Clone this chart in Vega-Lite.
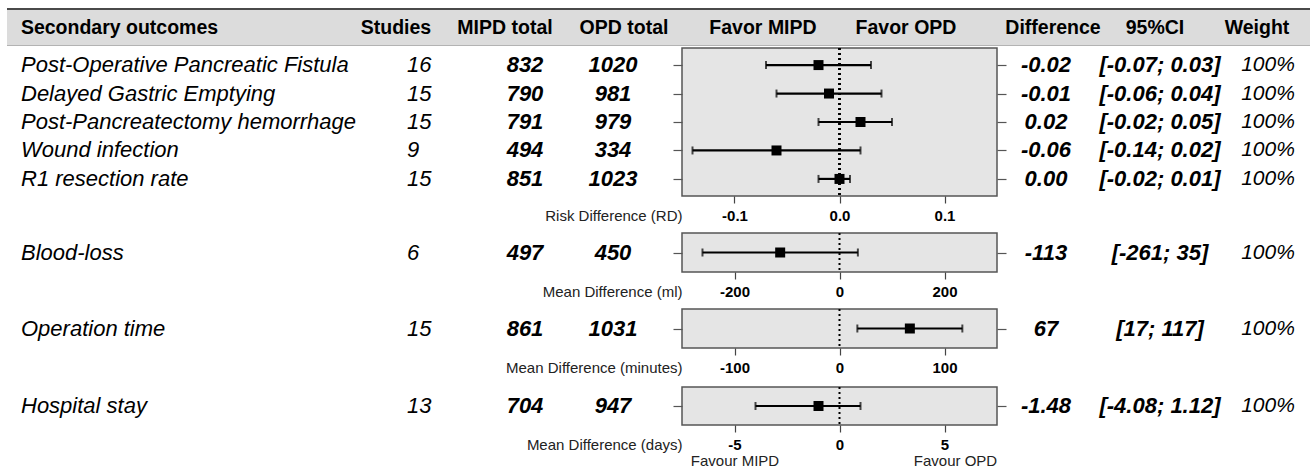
{
"$schema": "https://vega.github.io/schema/vega-lite/v6.json",
"padding": {"left": 7, "top": 8, "right": 0, "bottom": 0},
"background": "#ffffff",
"config": {"view": {"stroke": null}, "text": {"font": "Liberation Sans"}},
"datasets": {
"o": [
{"outcome":"Post-Operative Pancreatic Fistula","panel":"RD","studies":16,"mipd":832,"opd":1020,"est":-0.02,"lo":-0.07,"hi":0.03,"diff":"-0.02","ci":"[-0.07; 0.03]","weight":"100%"},
{"outcome":"Delayed Gastric Emptying","panel":"RD","studies":15,"mipd":790,"opd":981,"est":-0.01,"lo":-0.06,"hi":0.04,"diff":"-0.01","ci":"[-0.06; 0.04]","weight":"100%"},
{"outcome":"Post-Pancreatectomy hemorrhage","panel":"RD","studies":15,"mipd":791,"opd":979,"est":0.02,"lo":-0.02,"hi":0.05,"diff":"0.02","ci":"[-0.02; 0.05]","weight":"100%"},
{"outcome":"Wound infection","panel":"RD","studies":9,"mipd":494,"opd":334,"est":-0.06,"lo":-0.14,"hi":0.02,"diff":"-0.06","ci":"[-0.14; 0.02]","weight":"100%"},
{"outcome":"R1 resection rate","panel":"RD","studies":15,"mipd":851,"opd":1023,"est":0.0,"lo":-0.02,"hi":0.01,"diff":"0.00","ci":"[-0.02; 0.01]","weight":"100%"},
{"outcome":"Blood-loss","panel":"BL","studies":6,"mipd":497,"opd":450,"est":-113,"lo":-261,"hi":35,"diff":"-113","ci":"[-261; 35]","weight":"100%"},
{"outcome":"Operation time","panel":"OT","studies":15,"mipd":861,"opd":1031,"est":67,"lo":17,"hi":117,"diff":"67","ci":"[17; 117]","weight":"100%"},
{"outcome":"Hospital stay","panel":"HS","studies":13,"mipd":704,"opd":947,"est":-1.0,"lo":-4.0,"hi":1.0,"diff":"-1.48","ci":"[-4.08; 1.12]","weight":"100%"}
],
"hdr": [
{"col":"label","h":"Secondary outcomes"},
{"col":"studies","h":"Studies"},
{"col":"mipd","h":"MIPD total"},
{"col":"opd","h":"OPD total"},
{"col":"favmipd","h":"Favor MIPD"},
{"col":"favopd","h":"Favor OPD"},
{"col":"diff","h":"Difference"},
{"col":"ci","h":"95%CI"},
{"col":"weight","h":"Weight"}
]
},
"spacing": 0,
"vconcat": [
{"data": {"name": "hdr"}, "transform": [{"filter": "false"}], "width": 1303, "height": 2, "view": {"fill": "#4a4a4a", "stroke": null}, "mark": "text"},
{"data": {"name": "hdr"}, "spacing": 0, "bounds": "flush", "hconcat": [
 {"width": 225, "height": 35, "view": {"fill": "#dcdcdc", "stroke": null}, "transform": [{"filter": "datum.col == 'label'"}], "mark": {"type": "text", "align": "center", "baseline": "middle", "font": "Liberation Sans", "fontSize": 19.5, "fontWeight": "bold", "color": "#000"}, "encoding": {"text": {"field": "h", "type": "nominal"}}},
 {"width": 108, "height": 35, "view": {"fill": "#dcdcdc", "stroke": null}, "transform": [{"filter": "false"}], "mark": "text"},
 {"width": 112, "height": 35, "view": {"fill": "#dcdcdc", "stroke": null}, "transform": [{"filter": "datum.col == 'studies'"}], "mark": {"type": "text", "align": "center", "baseline": "middle", "font": "Liberation Sans", "fontSize": 19.5, "fontWeight": "bold", "color": "#000"}, "encoding": {"text": {"field": "h", "type": "nominal"}}},
 {"width": 106, "height": 35, "view": {"fill": "#dcdcdc", "stroke": null}, "transform": [{"filter": "datum.col == 'mipd'"}], "mark": {"type": "text", "align": "center", "baseline": "middle", "font": "Liberation Sans", "fontSize": 19.5, "fontWeight": "bold", "color": "#000"}, "encoding": {"text": {"field": "h", "type": "nominal"}}},
 {"width": 132, "height": 35, "view": {"fill": "#dcdcdc", "stroke": null}, "transform": [{"filter": "datum.col == 'opd'"}], "mark": {"type": "text", "align": "center", "baseline": "middle", "font": "Liberation Sans", "fontSize": 19.5, "fontWeight": "bold", "color": "#000"}, "encoding": {"text": {"field": "h", "type": "nominal"}}},
 {"width": 146, "height": 35, "view": {"fill": "#dcdcdc", "stroke": null}, "transform": [{"filter": "datum.col == 'favmipd'"}], "mark": {"type": "text", "align": "center", "baseline": "middle", "font": "Liberation Sans", "fontSize": 19.5, "fontWeight": "bold", "color": "#000"}, "encoding": {"text": {"field": "h", "type": "nominal"}}},
 {"width": 140, "height": 35, "view": {"fill": "#dcdcdc", "stroke": null}, "transform": [{"filter": "datum.col == 'favopd'"}], "mark": {"type": "text", "align": "center", "baseline": "middle", "font": "Liberation Sans", "fontSize": 19.5, "fontWeight": "bold", "color": "#000"}, "encoding": {"text": {"field": "h", "type": "nominal"}}},
 {"width": 24, "height": 35, "view": {"fill": "#dcdcdc", "stroke": null}, "transform": [{"filter": "false"}], "mark": "text"},
 {"width": 106, "height": 35, "view": {"fill": "#dcdcdc", "stroke": null}, "transform": [{"filter": "datum.col == 'diff'"}], "mark": {"type": "text", "align": "center", "baseline": "middle", "font": "Liberation Sans", "fontSize": 19.5, "fontWeight": "bold", "color": "#000"}, "encoding": {"text": {"field": "h", "type": "nominal"}}},
 {"width": 98, "height": 35, "view": {"fill": "#dcdcdc", "stroke": null}, "transform": [{"filter": "datum.col == 'ci'"}], "mark": {"type": "text", "align": "center", "baseline": "middle", "font": "Liberation Sans", "fontSize": 19.5, "fontWeight": "bold", "color": "#000"}, "encoding": {"text": {"field": "h", "type": "nominal"}}},
 {"width": 106, "height": 35, "view": {"fill": "#dcdcdc", "stroke": null}, "transform": [{"filter": "datum.col == 'weight'"}], "mark": {"type": "text", "align": "center", "baseline": "middle", "font": "Liberation Sans", "fontSize": 19.5, "fontWeight": "bold", "color": "#000"}, "encoding": {"text": {"field": "h", "type": "nominal"}}}
]},
{"data": {"name": "hdr"}, "transform": [{"filter": "false"}], "width": 1303, "height": 1, "view": {"fill": "#b3b3b3", "stroke": null}, "mark": "text"},

{"data": {"name": "o"}, "transform": [{"filter": "datum.panel == 'RD'"}], "spacing": 0, "bounds": "flush", "hconcat": [
 {"width": 28, "height": 148, "mark": {"type": "text", "align": "left", "baseline": "middle", "font": "Liberation Sans", "fontSize": 22, "fontStyle": "italic", "color": "#000"}, "encoding": {"y": {"field": "outcome", "type": "nominal", "sort": null, "scale": {"type": "point", "padding": 0.6}, "axis": null}, "text": {"field": "outcome", "type": "nominal"}}},
 {"width": 322, "height": 183, "transform": [{"filter": "false"}], "mark": "text"},
 {"width": 100, "height": 148, "mark": {"type": "text", "align": "left", "baseline": "middle", "font": "Liberation Sans", "fontSize": 22, "fontStyle": "italic", "color": "#000"}, "encoding": {"y": {"field": "outcome", "type": "nominal", "sort": null, "scale": {"type": "point", "padding": 0.6}, "axis": null}, "text": {"field": "studies", "type": "nominal"}}},
 {"width": 136, "height": 148, "mark": {"type": "text", "align": "center", "baseline": "middle", "font": "Liberation Sans", "fontSize": 22, "fontStyle": "italic", "fontWeight": "bold", "color": "#000"}, "encoding": {"y": {"field": "outcome", "type": "nominal", "sort": null, "scale": {"type": "point", "padding": 0.6}, "axis": null}, "text": {"field": "mipd", "type": "nominal"}}},
 {"width": 40, "height": 148, "mark": {"type": "text", "align": "center", "baseline": "middle", "font": "Liberation Sans", "fontSize": 22, "fontStyle": "italic", "fontWeight": "bold", "color": "#000"}, "encoding": {"y": {"field": "outcome", "type": "nominal", "sort": null, "scale": {"type": "point", "padding": 0.6}, "axis": null}, "text": {"field": "opd", "type": "nominal"}}},
 {"width": 49, "height": 148, "transform": [{"filter": "false"}], "mark": "text"},
 {"width": 315, "height": 148, "view": {"fill": "#e5e5e5", "stroke": "#555555", "strokeWidth": 1.5},
  "resolve": {"axis": {"x": "independent", "y": "independent"}},
  "layer": [
   {"mark": {"type": "rule", "strokeDash": [2, 3], "strokeWidth": 2, "color": "#000"}, "encoding": {"x": {"datum": 0, "type": "quantitative", "axis": null}}},
   {"mark": {"type": "rule", "strokeWidth": 2.2, "color": "#000"}, "encoding": {"x": {"field": "lo", "type": "quantitative", "axis": null}, "x2": {"field": "hi"}, "y": {"field": "outcome", "type": "nominal", "sort": null, "scale": {"type": "point", "padding": 0.6}, "axis": null}}},
   {"mark": {"type": "tick", "size": 8, "thickness": 2, "color": "#000"}, "encoding": {"x": {"field": "lo", "type": "quantitative",
       "axis": {"orient": "bottom", "values": [-0.15], "labelExpr": "'Risk Difference (RD)'", "labelAlign": "right", "labelDx": -4, "ticks": true, "tickSize": 7, "tickOpacity": 0, "domain": false, "grid": false, "labelPadding": 5, "labelFont": "Liberation Sans", "labelFontSize": 15, "labelFontWeight": "normal", "labelColor": "#222", "labelFlush": false, "labelOverlap": false, "labelLimit": 400, "title": null}},
     "y": {"field": "outcome", "type": "nominal", "sort": null, "axis": null}}},
   {"mark": {"type": "tick", "size": 8, "thickness": 2, "color": "#000"}, "encoding": {"x": {"field": "hi", "type": "quantitative", "axis": null}, "y": {"field": "outcome", "type": "nominal", "sort": null, "axis": {"orient": "right", "labels": false, "domain": false, "ticks": true, "tickSize": 9, "tickColor": "#555", "tickWidth": 1.2, "grid": false, "title": null}}}},
   {"mark": {"type": "square", "size": 100, "color": "#000", "opacity": 1}, "encoding": {
     "x": {"field": "est", "type": "quantitative", "scale": {"domain": [-0.15, 0.15], "nice": false, "zero": false},
       "axis": {"orient": "bottom", "values": [-0.1, 0, 0.1], "format": ".1f", "labelExpr": "replace(datum.label, '−', '-')", "domain": false, "ticks": true, "tickSize": 7, "tickColor": "#444", "tickWidth": 1.2, "grid": false, "labelFont": "Liberation Sans", "labelFontSize": 15, "labelFontWeight": "bold", "labelColor": "#000", "labelPadding": 5, "labelFlush": false, "labelOverlap": false, "title": null}},
     "y": {"field": "outcome", "type": "nominal", "sort": null, "axis": {"orient": "left", "labels": false, "domain": false, "ticks": true, "tickSize": 9, "tickColor": "#555", "tickWidth": 1.2, "grid": false, "title": null}}}}
  ]},
 {"width": 98, "height": 148, "mark": {"type": "text", "align": "center", "baseline": "middle", "font": "Liberation Sans", "fontSize": 22, "fontStyle": "italic", "fontWeight": "bold", "color": "#000"}, "encoding": {"y": {"field": "outcome", "type": "nominal", "sort": null, "scale": {"type": "point", "padding": 0.6}, "axis": null}, "text": {"field": "diff", "type": "nominal"}}},
 {"width": 130, "height": 148, "mark": {"type": "text", "align": "center", "baseline": "middle", "font": "Liberation Sans", "fontSize": 22, "fontStyle": "italic", "fontWeight": "bold", "color": "#000"}, "encoding": {"y": {"field": "outcome", "type": "nominal", "sort": null, "scale": {"type": "point", "padding": 0.6}, "axis": null}, "text": {"field": "ci", "type": "nominal"}}},
 {"width": 86, "height": 148, "mark": {"type": "text", "align": "center", "baseline": "middle", "font": "Liberation Sans", "fontSize": 21, "fontStyle": "italic", "color": "#000"}, "encoding": {"y": {"field": "outcome", "type": "nominal", "sort": null, "scale": {"type": "point", "padding": 0.6}, "axis": null}, "text": {"field": "weight", "type": "nominal"}}}
]},

{"data": {"name": "o"}, "transform": [{"filter": "datum.panel == 'BL'"}], "spacing": 0, "bounds": "flush", "hconcat": [
 {"width": 28, "height": 39, "mark": {"type": "text", "align": "left", "baseline": "middle", "font": "Liberation Sans", "fontSize": 22, "fontStyle": "italic", "color": "#000"}, "encoding": {"y": {"field": "outcome", "type": "nominal", "sort": null, "scale": {"type": "point", "padding": 0.6}, "axis": null}, "text": {"field": "outcome", "type": "nominal"}}},
 {"width": 322, "height": 74, "transform": [{"filter": "false"}], "mark": "text"},
 {"width": 100, "height": 39, "mark": {"type": "text", "align": "left", "baseline": "middle", "font": "Liberation Sans", "fontSize": 22, "fontStyle": "italic", "color": "#000"}, "encoding": {"y": {"field": "outcome", "type": "nominal", "sort": null, "scale": {"type": "point", "padding": 0.6}, "axis": null}, "text": {"field": "studies", "type": "nominal"}}},
 {"width": 136, "height": 39, "mark": {"type": "text", "align": "center", "baseline": "middle", "font": "Liberation Sans", "fontSize": 22, "fontStyle": "italic", "fontWeight": "bold", "color": "#000"}, "encoding": {"y": {"field": "outcome", "type": "nominal", "sort": null, "scale": {"type": "point", "padding": 0.6}, "axis": null}, "text": {"field": "mipd", "type": "nominal"}}},
 {"width": 40, "height": 39, "mark": {"type": "text", "align": "center", "baseline": "middle", "font": "Liberation Sans", "fontSize": 22, "fontStyle": "italic", "fontWeight": "bold", "color": "#000"}, "encoding": {"y": {"field": "outcome", "type": "nominal", "sort": null, "scale": {"type": "point", "padding": 0.6}, "axis": null}, "text": {"field": "opd", "type": "nominal"}}},
 {"width": 49, "height": 39, "transform": [{"filter": "false"}], "mark": "text"},
 {"width": 315, "height": 39, "view": {"fill": "#e5e5e5", "stroke": "#555555", "strokeWidth": 1.5},
  "resolve": {"axis": {"x": "independent", "y": "independent"}},
  "layer": [
   {"mark": {"type": "rule", "strokeDash": [2, 3], "strokeWidth": 2, "color": "#000"}, "encoding": {"x": {"datum": 0, "type": "quantitative", "axis": null}}},
   {"mark": {"type": "rule", "strokeWidth": 2.2, "color": "#000"}, "encoding": {"x": {"field": "lo", "type": "quantitative", "axis": null}, "x2": {"field": "hi"}, "y": {"field": "outcome", "type": "nominal", "sort": null, "scale": {"type": "point", "padding": 0.6}, "axis": null}}},
   {"mark": {"type": "tick", "size": 8, "thickness": 2, "color": "#000"}, "encoding": {"x": {"field": "lo", "type": "quantitative",
       "axis": {"orient": "bottom", "values": [-300], "labelExpr": "'Mean Difference (ml)'", "labelAlign": "right", "labelDx": -4, "ticks": true, "tickSize": 7, "tickOpacity": 0, "domain": false, "grid": false, "labelPadding": 5, "labelFont": "Liberation Sans", "labelFontSize": 15, "labelFontWeight": "normal", "labelColor": "#222", "labelFlush": false, "labelOverlap": false, "labelLimit": 400, "title": null}},
     "y": {"field": "outcome", "type": "nominal", "sort": null, "axis": null}}},
   {"mark": {"type": "tick", "size": 8, "thickness": 2, "color": "#000"}, "encoding": {"x": {"field": "hi", "type": "quantitative", "axis": null}, "y": {"field": "outcome", "type": "nominal", "sort": null, "axis": {"orient": "right", "labels": false, "domain": false, "ticks": true, "tickSize": 9, "tickColor": "#555", "tickWidth": 1.2, "grid": false, "title": null}}}},
   {"mark": {"type": "square", "size": 100, "color": "#000", "opacity": 1}, "encoding": {
     "x": {"field": "est", "type": "quantitative", "scale": {"domain": [-300, 300], "nice": false, "zero": false},
       "axis": {"orient": "bottom", "values": [-200, 0, 200], "labelExpr": "replace(datum.label, '−', '-')", "domain": false, "ticks": true, "tickSize": 7, "tickColor": "#444", "tickWidth": 1.2, "grid": false, "labelFont": "Liberation Sans", "labelFontSize": 15, "labelFontWeight": "bold", "labelColor": "#000", "labelPadding": 5, "labelFlush": false, "labelOverlap": false, "title": null}},
     "y": {"field": "outcome", "type": "nominal", "sort": null, "axis": {"orient": "left", "labels": false, "domain": false, "ticks": true, "tickSize": 9, "tickColor": "#555", "tickWidth": 1.2, "grid": false, "title": null}}}}
  ]},
 {"width": 98, "height": 39, "mark": {"type": "text", "align": "center", "baseline": "middle", "font": "Liberation Sans", "fontSize": 22, "fontStyle": "italic", "fontWeight": "bold", "color": "#000"}, "encoding": {"y": {"field": "outcome", "type": "nominal", "sort": null, "scale": {"type": "point", "padding": 0.6}, "axis": null}, "text": {"field": "diff", "type": "nominal"}}},
 {"width": 130, "height": 39, "mark": {"type": "text", "align": "center", "baseline": "middle", "font": "Liberation Sans", "fontSize": 22, "fontStyle": "italic", "fontWeight": "bold", "color": "#000"}, "encoding": {"y": {"field": "outcome", "type": "nominal", "sort": null, "scale": {"type": "point", "padding": 0.6}, "axis": null}, "text": {"field": "ci", "type": "nominal"}}},
 {"width": 86, "height": 39, "mark": {"type": "text", "align": "center", "baseline": "middle", "font": "Liberation Sans", "fontSize": 21, "fontStyle": "italic", "color": "#000"}, "encoding": {"y": {"field": "outcome", "type": "nominal", "sort": null, "scale": {"type": "point", "padding": 0.6}, "axis": null}, "text": {"field": "weight", "type": "nominal"}}}
]},

{"data": {"name": "o"}, "transform": [{"filter": "datum.panel == 'OT'"}], "spacing": 0, "bounds": "flush", "hconcat": [
 {"width": 28, "height": 39, "mark": {"type": "text", "align": "left", "baseline": "middle", "font": "Liberation Sans", "fontSize": 22, "fontStyle": "italic", "color": "#000"}, "encoding": {"y": {"field": "outcome", "type": "nominal", "sort": null, "scale": {"type": "point", "padding": 0.6}, "axis": null}, "text": {"field": "outcome", "type": "nominal"}}},
 {"width": 322, "height": 76, "transform": [{"filter": "false"}], "mark": "text"},
 {"width": 100, "height": 39, "mark": {"type": "text", "align": "left", "baseline": "middle", "font": "Liberation Sans", "fontSize": 22, "fontStyle": "italic", "color": "#000"}, "encoding": {"y": {"field": "outcome", "type": "nominal", "sort": null, "scale": {"type": "point", "padding": 0.6}, "axis": null}, "text": {"field": "studies", "type": "nominal"}}},
 {"width": 136, "height": 39, "mark": {"type": "text", "align": "center", "baseline": "middle", "font": "Liberation Sans", "fontSize": 22, "fontStyle": "italic", "fontWeight": "bold", "color": "#000"}, "encoding": {"y": {"field": "outcome", "type": "nominal", "sort": null, "scale": {"type": "point", "padding": 0.6}, "axis": null}, "text": {"field": "mipd", "type": "nominal"}}},
 {"width": 40, "height": 39, "mark": {"type": "text", "align": "center", "baseline": "middle", "font": "Liberation Sans", "fontSize": 22, "fontStyle": "italic", "fontWeight": "bold", "color": "#000"}, "encoding": {"y": {"field": "outcome", "type": "nominal", "sort": null, "scale": {"type": "point", "padding": 0.6}, "axis": null}, "text": {"field": "opd", "type": "nominal"}}},
 {"width": 49, "height": 39, "transform": [{"filter": "false"}], "mark": "text"},
 {"width": 315, "height": 39, "view": {"fill": "#e5e5e5", "stroke": "#555555", "strokeWidth": 1.5},
  "resolve": {"axis": {"x": "independent", "y": "independent"}},
  "layer": [
   {"mark": {"type": "rule", "strokeDash": [2, 3], "strokeWidth": 2, "color": "#000"}, "encoding": {"x": {"datum": 0, "type": "quantitative", "axis": null}}},
   {"mark": {"type": "rule", "strokeWidth": 2.2, "color": "#000"}, "encoding": {"x": {"field": "lo", "type": "quantitative", "axis": null}, "x2": {"field": "hi"}, "y": {"field": "outcome", "type": "nominal", "sort": null, "scale": {"type": "point", "padding": 0.6}, "axis": null}}},
   {"mark": {"type": "tick", "size": 8, "thickness": 2, "color": "#000"}, "encoding": {"x": {"field": "lo", "type": "quantitative",
       "axis": {"orient": "bottom", "values": [-150], "labelExpr": "'Mean Difference (minutes)'", "labelAlign": "right", "labelDx": -4, "ticks": true, "tickSize": 7, "tickOpacity": 0, "domain": false, "grid": false, "labelPadding": 5, "labelFont": "Liberation Sans", "labelFontSize": 15, "labelFontWeight": "normal", "labelColor": "#222", "labelFlush": false, "labelOverlap": false, "labelLimit": 400, "title": null}},
     "y": {"field": "outcome", "type": "nominal", "sort": null, "axis": null}}},
   {"mark": {"type": "tick", "size": 8, "thickness": 2, "color": "#000"}, "encoding": {"x": {"field": "hi", "type": "quantitative", "axis": null}, "y": {"field": "outcome", "type": "nominal", "sort": null, "axis": {"orient": "right", "labels": false, "domain": false, "ticks": true, "tickSize": 9, "tickColor": "#555", "tickWidth": 1.2, "grid": false, "title": null}}}},
   {"mark": {"type": "square", "size": 100, "color": "#000", "opacity": 1}, "encoding": {
     "x": {"field": "est", "type": "quantitative", "scale": {"domain": [-150, 150], "nice": false, "zero": false},
       "axis": {"orient": "bottom", "values": [-100, 0, 100], "labelExpr": "replace(datum.label, '−', '-')", "domain": false, "ticks": true, "tickSize": 7, "tickColor": "#444", "tickWidth": 1.2, "grid": false, "labelFont": "Liberation Sans", "labelFontSize": 15, "labelFontWeight": "bold", "labelColor": "#000", "labelPadding": 5, "labelFlush": false, "labelOverlap": false, "title": null}},
     "y": {"field": "outcome", "type": "nominal", "sort": null, "axis": {"orient": "left", "labels": false, "domain": false, "ticks": true, "tickSize": 9, "tickColor": "#555", "tickWidth": 1.2, "grid": false, "title": null}}}}
  ]},
 {"width": 98, "height": 39, "mark": {"type": "text", "align": "center", "baseline": "middle", "font": "Liberation Sans", "fontSize": 22, "fontStyle": "italic", "fontWeight": "bold", "color": "#000"}, "encoding": {"y": {"field": "outcome", "type": "nominal", "sort": null, "scale": {"type": "point", "padding": 0.6}, "axis": null}, "text": {"field": "diff", "type": "nominal"}}},
 {"width": 130, "height": 39, "mark": {"type": "text", "align": "center", "baseline": "middle", "font": "Liberation Sans", "fontSize": 22, "fontStyle": "italic", "fontWeight": "bold", "color": "#000"}, "encoding": {"y": {"field": "outcome", "type": "nominal", "sort": null, "scale": {"type": "point", "padding": 0.6}, "axis": null}, "text": {"field": "ci", "type": "nominal"}}},
 {"width": 86, "height": 39, "mark": {"type": "text", "align": "center", "baseline": "middle", "font": "Liberation Sans", "fontSize": 21, "fontStyle": "italic", "color": "#000"}, "encoding": {"y": {"field": "outcome", "type": "nominal", "sort": null, "scale": {"type": "point", "padding": 0.6}, "axis": null}, "text": {"field": "weight", "type": "nominal"}}}
]},

{"data": {"name": "o"}, "transform": [{"filter": "datum.panel == 'HS'"}], "spacing": 0, "bounds": "flush", "hconcat": [
 {"width": 28, "height": 38, "mark": {"type": "text", "align": "left", "baseline": "middle", "font": "Liberation Sans", "fontSize": 22, "fontStyle": "italic", "color": "#000"}, "encoding": {"y": {"field": "outcome", "type": "nominal", "sort": null, "scale": {"type": "point", "padding": 0.6}, "axis": null}, "text": {"field": "outcome", "type": "nominal"}}},
 {"width": 322, "height": 38, "transform": [{"filter": "false"}], "mark": "text"},
 {"width": 100, "height": 38, "mark": {"type": "text", "align": "left", "baseline": "middle", "font": "Liberation Sans", "fontSize": 22, "fontStyle": "italic", "color": "#000"}, "encoding": {"y": {"field": "outcome", "type": "nominal", "sort": null, "scale": {"type": "point", "padding": 0.6}, "axis": null}, "text": {"field": "studies", "type": "nominal"}}},
 {"width": 136, "height": 38, "mark": {"type": "text", "align": "center", "baseline": "middle", "font": "Liberation Sans", "fontSize": 22, "fontStyle": "italic", "fontWeight": "bold", "color": "#000"}, "encoding": {"y": {"field": "outcome", "type": "nominal", "sort": null, "scale": {"type": "point", "padding": 0.6}, "axis": null}, "text": {"field": "mipd", "type": "nominal"}}},
 {"width": 40, "height": 38, "mark": {"type": "text", "align": "center", "baseline": "middle", "font": "Liberation Sans", "fontSize": 22, "fontStyle": "italic", "fontWeight": "bold", "color": "#000"}, "encoding": {"y": {"field": "outcome", "type": "nominal", "sort": null, "scale": {"type": "point", "padding": 0.6}, "axis": null}, "text": {"field": "opd", "type": "nominal"}}},
 {"width": 49, "height": 38, "transform": [{"filter": "false"}], "mark": "text"},
 {"width": 315, "height": 38, "view": {"fill": "#e5e5e5", "stroke": "#555555", "strokeWidth": 1.5},
  "resolve": {"axis": {"x": "independent", "y": "independent"}},
  "layer": [
   {"mark": {"type": "rule", "strokeDash": [2, 3], "strokeWidth": 2, "color": "#000"}, "encoding": {"x": {"datum": 0, "type": "quantitative", "axis": null}}},
   {"mark": {"type": "rule", "strokeWidth": 2.2, "color": "#000"}, "encoding": {"x": {"field": "lo", "type": "quantitative",
       "axis": {"orient": "bottom", "values": [-5, 5.5], "labelExpr": "datum.value < 0 ? 'Favour MIPD' : 'Favour OPD'", "ticks": false, "tickSize": 0, "domain": false, "grid": false, "labelPadding": 28, "labelFont": "Liberation Sans", "labelFontSize": 15, "labelFontWeight": "normal", "labelColor": "#222", "labelFlush": false, "labelOverlap": false, "title": null}},
     "x2": {"field": "hi"}, "y": {"field": "outcome", "type": "nominal", "sort": null, "scale": {"type": "point", "padding": 0.6}, "axis": null}}},
   {"mark": {"type": "tick", "size": 8, "thickness": 2, "color": "#000"}, "encoding": {"x": {"field": "lo", "type": "quantitative",
       "axis": {"orient": "bottom", "values": [-7.5], "labelExpr": "'Mean Difference (days)'", "labelAlign": "right", "labelDx": -4, "ticks": true, "tickSize": 7, "tickOpacity": 0, "domain": false, "grid": false, "labelPadding": 5, "labelFont": "Liberation Sans", "labelFontSize": 15, "labelFontWeight": "normal", "labelColor": "#222", "labelFlush": false, "labelOverlap": false, "labelLimit": 400, "title": null}},
     "y": {"field": "outcome", "type": "nominal", "sort": null, "axis": null}}},
   {"mark": {"type": "tick", "size": 8, "thickness": 2, "color": "#000"}, "encoding": {"x": {"field": "hi", "type": "quantitative", "axis": null}, "y": {"field": "outcome", "type": "nominal", "sort": null, "axis": {"orient": "right", "labels": false, "domain": false, "ticks": true, "tickSize": 9, "tickColor": "#555", "tickWidth": 1.2, "grid": false, "title": null}}}},
   {"mark": {"type": "square", "size": 100, "color": "#000", "opacity": 1}, "encoding": {
     "x": {"field": "est", "type": "quantitative", "scale": {"domain": [-7.5, 7.5], "nice": false, "zero": false},
       "axis": {"orient": "bottom", "values": [-5, 0, 5], "labelExpr": "replace(datum.label, '−', '-')", "domain": false, "ticks": true, "tickSize": 7, "tickColor": "#444", "tickWidth": 1.2, "grid": false, "labelFont": "Liberation Sans", "labelFontSize": 15, "labelFontWeight": "bold", "labelColor": "#000", "labelPadding": 5, "labelFlush": false, "labelOverlap": false, "title": null}},
     "y": {"field": "outcome", "type": "nominal", "sort": null, "axis": {"orient": "left", "labels": false, "domain": false, "ticks": true, "tickSize": 9, "tickColor": "#555", "tickWidth": 1.2, "grid": false, "title": null}}}}
  ]},
 {"width": 98, "height": 38, "mark": {"type": "text", "align": "center", "baseline": "middle", "font": "Liberation Sans", "fontSize": 22, "fontStyle": "italic", "fontWeight": "bold", "color": "#000"}, "encoding": {"y": {"field": "outcome", "type": "nominal", "sort": null, "scale": {"type": "point", "padding": 0.6}, "axis": null}, "text": {"field": "diff", "type": "nominal"}}},
 {"width": 130, "height": 38, "mark": {"type": "text", "align": "center", "baseline": "middle", "font": "Liberation Sans", "fontSize": 22, "fontStyle": "italic", "fontWeight": "bold", "color": "#000"}, "encoding": {"y": {"field": "outcome", "type": "nominal", "sort": null, "scale": {"type": "point", "padding": 0.6}, "axis": null}, "text": {"field": "ci", "type": "nominal"}}},
 {"width": 86, "height": 38, "mark": {"type": "text", "align": "center", "baseline": "middle", "font": "Liberation Sans", "fontSize": 21, "fontStyle": "italic", "color": "#000"}, "encoding": {"y": {"field": "outcome", "type": "nominal", "sort": null, "scale": {"type": "point", "padding": 0.6}, "axis": null}, "text": {"field": "weight", "type": "nominal"}}}
]}
]
}
